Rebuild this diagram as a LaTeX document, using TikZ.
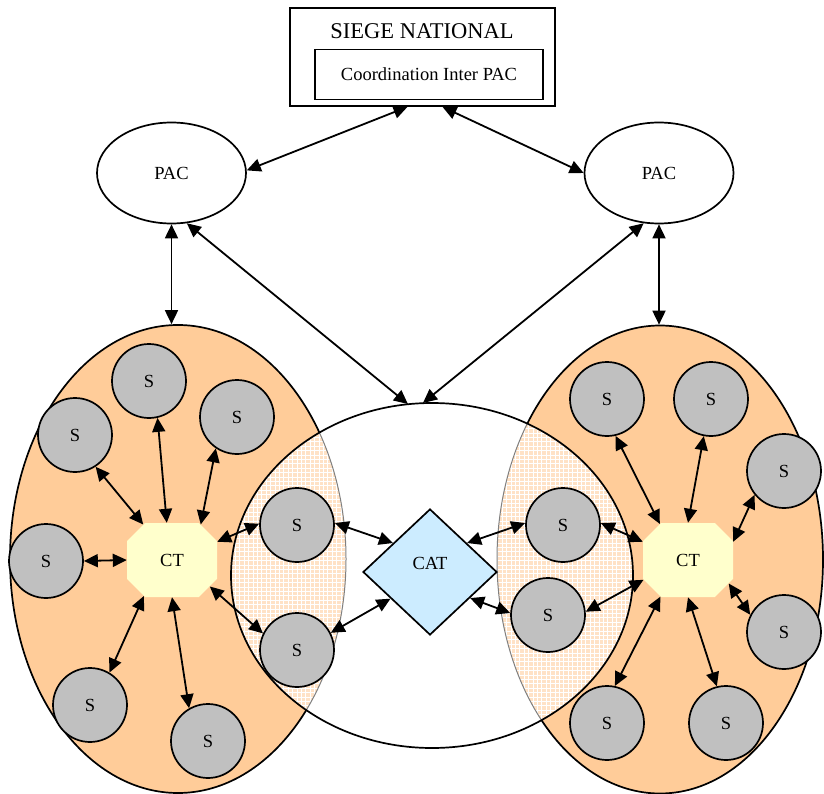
\documentclass[tikz,border=0pt]{standalone}
\usepackage{fontspec}
\setmainfont{Liberation Serif}
\usetikzlibrary{arrows.meta,shapes.geometric,shapes.misc}
\definecolor{peach}{HTML}{FFCC99}
\definecolor{peachlight}{HTML}{FFE2C6}
\definecolor{sgray}{HTML}{C0C0C0}
\definecolor{ctyellow}{HTML}{FFFFCC}
\definecolor{catblue}{HTML}{CCECFF}

\begin{document}
\begin{tikzpicture}[x=1pt,y=-1pt,
  lbl/.style={font=\fontsize{18.5}{20}\selectfont},
  sbox/.style={circle,draw=black,fill=sgray,line width=1.7pt,minimum size=74pt,inner sep=0pt,lbl},
  ctbox/.style={chamfered rectangle,chamfered rectangle xsep=15pt,chamfered rectangle ysep=15pt,
    fill=ctyellow,minimum width=90pt,minimum height=74pt,inner sep=0pt,lbl},
  catbox/.style={diamond,draw,fill=catblue,line width=1.7pt,minimum width=134pt,minimum height=126pt,inner sep=0pt},
  pacbox/.style={ellipse,draw,line width=1.7pt,fill=white,minimum width=149pt,minimum height=101pt,inner sep=0pt,lbl},
  region/.style={ellipse,draw,line width=1.7pt,fill=peach,inner sep=0pt},
  gridline/.style={white,line width=0.6pt},
  link/.style={{Triangle[length=14pt,width=13pt]}-{Triangle[length=14pt,width=13pt]},line width=1.8pt},
]
\useasboundingbox (0,0) rectangle (824,794);

% regional zones
\node[region,minimum width=336pt,minimum height=468pt] (bigL) at (178,559) {};
\node[region,minimum width=326pt,minimum height=468pt] (bigR) at (660,559.5) {};
\node[ellipse,fill=white,minimum width=402pt,minimum height=345pt,inner sep=0pt] (mid) at (432,575.5) {};

% shared zones where the regions meet the central zone
\begin{scope}
  \clip (432,575.5) ellipse [x radius=201, y radius=172.5];
  \begin{scope}
    \clip (178,559) ellipse [x radius=168, y radius=234];
    \fill[peachlight] (200,380) rectangle (360,760);
    \foreach \gx in {200,204.4,...,360} \draw[gridline] (\gx,380) -- (\gx,760);
    \foreach \gy in {380,384.4,...,760} \draw[gridline] (200,\gy) -- (360,\gy);
  \end{scope}
  \begin{scope}
    \clip (660,559.5) ellipse [x radius=163, y radius=234];
    \fill[peachlight] (480,380) rectangle (650,760);
    \foreach \gx in {480,484.4,...,650} \draw[gridline] (\gx,380) -- (\gx,760);
    \foreach \gy in {380,384.4,...,760} \draw[gridline] (480,\gy) -- (650,\gy);
  \end{scope}
  \draw[gray,line width=1pt] (178,559) ellipse [x radius=168, y radius=234];
  \draw[gray,line width=1pt] (660,559.5) ellipse [x radius=163, y radius=234];
\end{scope}
\draw[line width=1.7pt] (432,575.5) ellipse [x radius=201, y radius=172.5];

% national head office
\node[draw,line width=1.7pt,minimum width=265pt,minimum height=98pt,inner sep=0pt] (siege) at (422.5,57) {};
\node[font=\fontsize{22.5}{24}\selectfont] (siegetxt) at (422,31) {SIEGE NATIONAL};
\node[draw,line width=1.7pt,minimum width=228pt,minimum height=50pt,inner sep=0pt,lbl] (coord) at (429,74.5) {Coordination Inter PAC};

% PAC
\node[pacbox] (pacL) at (171.5,173) {PAC};
\node[pacbox] (pacR) at (659,173) {PAC};

% CT and CAT
\node[ctbox] (ctL) at (172,560) {CT};
\node[ctbox] (ctR) at (688,560) {CT};
\node[catbox] (cat) at (430,572) {};
\node[lbl] (cattxt) at (430,563) {CAT};

% sites
\node[sbox] (sL1) at (149,381) {S};
\node[sbox] (sL2) at (75,435) {S};
\node[sbox] (sL3) at (237,417) {S};
\node[sbox] (sL4) at (46,561) {S};
\node[sbox] (sL5) at (90,705) {S};
\node[sbox] (sL6) at (208,741) {S};
\node[sbox] (sM1) at (297,525) {S};
\node[sbox] (sM2) at (297,650) {S};
\node[sbox] (sM3) at (563,525) {S};
\node[sbox] (sM4) at (548,615) {S};
\node[sbox] (sR1) at (607,399) {S};
\node[sbox] (sR2) at (711,399) {S};
\node[sbox] (sR3) at (784,471) {S};
\node[sbox] (sR4) at (784,632) {S};
\node[sbox] (sR5) at (607,723) {S};
\node[sbox] (sR6) at (726,723) {S};

% links
\draw[link] ([xshift=-15pt]siege.south) -- (pacL.2);
\draw[link] ([xshift=20pt]siege.south) -- (pacR.180);
\draw[link] (pacL.south) -- (pacL.south |- bigL.north);
\draw[link] (pacR.south) -- (pacR.south |- bigR.north);
\draw[link] (pacL.-73) -- (mid.98);
\draw[link] (pacR.-107) -- (mid.93);

\draw[link] (sL1.-77) -- (ctL.98);
\draw[link] (sL2.-57) -- (ctL.129);
\draw[link] (sL3.-124) -- (ctL.51);
\draw[link] (sL4.0) -- (ctL.180);
\draw[link] (sM1.178) -- (ctL.22);
\draw[link] (sM2.154) -- (ctL.-35);
\draw[link] (sL5.59) -- (ctL.-128);
\draw[link] (sL6.120) -- (ctL.-90);

\draw[link] (sM1.3) -- (cat.142);
\draw[link] (sM2.27) -- (cat.-146);
\draw[link] (sM3.177) -- (cat.38);
\draw[link] (sM4.177) -- (cat.-33);

\draw[link] (sM3.3) -- (ctR.158);
\draw[link] (sM4.5) -- (ctR.-156);
\draw[link] (sR1.-77) -- (ctR.128);
\draw[link] (sR2.-101) -- (ctR.90);
\draw[link] (sR3.-141) -- (ctR.22);
\draw[link] (sR4.153) -- (ctR.-30);
\draw[link] (sR5.78) -- (ctR.-127);
\draw[link] (sR6.104) -- (ctR.-90);
\end{tikzpicture}
\end{document}
